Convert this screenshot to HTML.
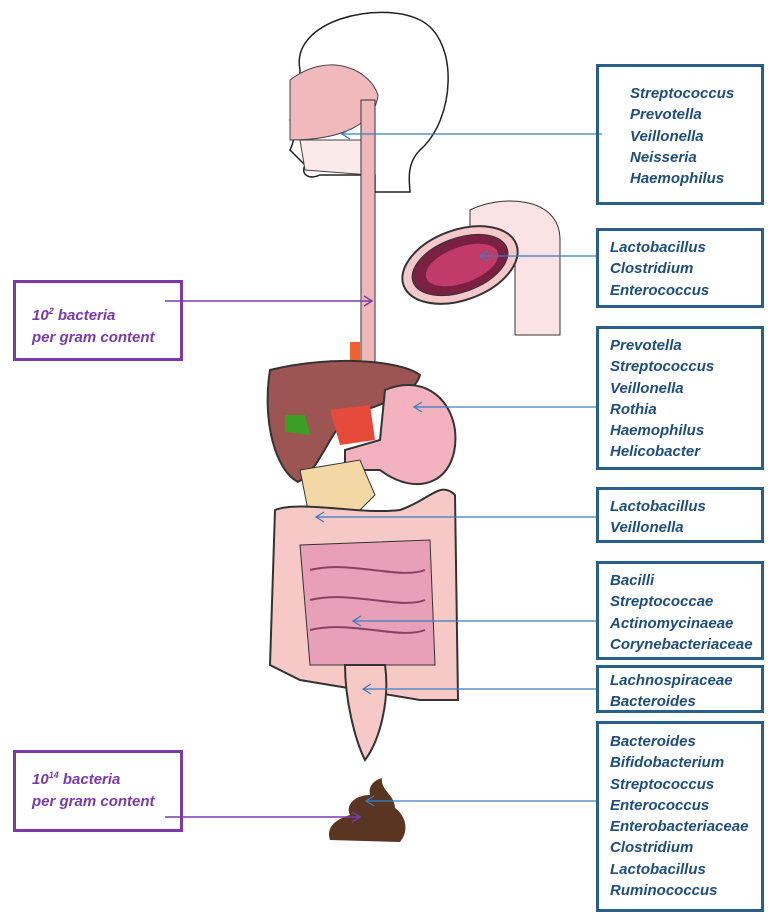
<!DOCTYPE html>
<html><head><meta charset="utf-8"><style>
body{margin:0;width:773px;height:922px;background:#fff;position:relative;overflow:hidden;font-family:"Liberation Sans",sans-serif}
.b{position:absolute;border:3px solid #2a5f8a;box-sizing:border-box;color:#1f4e79;font-weight:bold;font-style:italic;font-size:15px;line-height:21.3px;padding-left:11px}
.p{position:absolute;border:3px solid #7a3aa8;box-sizing:border-box;color:#7a3aa8;font-weight:bold;font-style:italic;font-size:15px;line-height:22px;padding-left:16px}
sup{font-size:9px}
</style></head><body>
<svg width="773" height="922" style="position:absolute;left:0;top:0">
<path d="M300 70 C290 20 380 0 420 20 C460 40 455 120 420 150 C405 165 410 185 410 192 L375 192 L375 175 L320 175 C310 180 300 175 305 165 L290 150 C295 140 295 130 290 120 C300 110 300 90 300 70Z" fill="#fff" stroke="#222" stroke-width="1.5"/>
<path d="M290 80 C330 50 370 70 378 95 C375 125 340 140 290 140Z" fill="#f2b9bd" stroke="#444"/>
<path d="M300 140 L375 140 L370 175 L305 170Z" fill="#fbeaea" stroke="#444"/>
<rect x="361" y="100" width="14" height="270" fill="#f0b7bb" stroke="#333"/>
<rect x="350" y="342" width="10" height="25" fill="#f06030"/>
<path d="M470 210 C500 195 560 195 560 240 L560 335 L515 335 L515 250 C510 230 490 225 470 230Z" fill="#fbe3e5" stroke="#333"/>
<ellipse cx="460" cy="265" rx="60" ry="35" transform="rotate(-20 460 265)" fill="#f6c8cc" stroke="#333" stroke-width="2"/>
<ellipse cx="460" cy="265" rx="50" ry="27" transform="rotate(-20 460 265)" fill="#7a2040" stroke="#333"/>
<ellipse cx="462" cy="265" rx="38" ry="18" transform="rotate(-20 462 265)" fill="#c23a68"/>
<path d="M270 370 C330 355 400 360 420 375 C415 395 380 405 350 415 C330 430 320 470 298 482 C275 470 262 420 270 370Z" fill="#9c5552" stroke="#333" stroke-width="2"/>
<path d="M285 415 L305 415 L310 435 L285 432Z" fill="#3aa024"/>
<path d="M330 410 L370 405 L375 440 L340 445Z" fill="#e64a3a"/>
<path d="M385 390 C420 375 450 395 455 430 C460 480 420 500 380 470 L345 470 L345 450 L380 440Z" fill="#f2b3bf" stroke="#333" stroke-width="2"/>
<path d="M300 470 L360 460 L375 495 L345 525 L310 520Z" fill="#f3d8a6" stroke="#333"/>
<path d="M275 510 C300 500 360 515 400 510 C430 500 440 480 455 495 L458 700 L420 700 L300 680 L270 665 Z" fill="#f7c9c6" stroke="#333" stroke-width="2"/>
<path d="M300 545 L430 540 L435 665 L310 665Z" fill="#e7a0b8" stroke="#333"/>
<path d="M310 570 C350 560 400 580 425 570 M310 600 C350 590 400 610 425 600 M310 630 C350 620 400 640 425 630" fill="none" stroke="#8a4060" stroke-width="2"/>
<path d="M345 665 L385 665 C390 700 380 740 365 760 C355 740 345 700 345 665Z" fill="#f7c9c6" stroke="#333" stroke-width="2"/>
<path d="M330 840 C325 825 340 818 350 815 C345 805 355 795 370 795 C368 785 375 780 382 778 C380 790 395 795 395 808 C405 815 410 830 400 842Z" fill="#5a3622"/>
<g stroke="#3a7cc0" stroke-width="1.3" fill="none">
<line x1="602" y1="134" x2="342" y2="134"/><path d="M350 129 L342 134 L350 139"/>
<line x1="596" y1="256" x2="480" y2="256"/><path d="M488 251 L480 256 L488 261"/>
<line x1="596" y1="407" x2="414" y2="407"/><path d="M422 402 L414 407 L422 412"/>
<line x1="596" y1="517" x2="316" y2="517"/><path d="M324 512 L316 517 L324 522"/>
<line x1="596" y1="621" x2="353" y2="621"/><path d="M361 616 L353 621 L361 626"/>
<line x1="596" y1="689" x2="363" y2="689"/><path d="M371 684 L363 689 L371 694"/>
<line x1="596" y1="801" x2="366" y2="801"/><path d="M374 796 L366 801 L374 806"/>
</g>
<g stroke="#7a3aa8" stroke-width="1.5" fill="none">
<line x1="165" y1="301" x2="372" y2="301"/><path d="M364 296 L372 301 L364 306"/>
<line x1="165" y1="817" x2="360" y2="817"/><path d="M352 812 L360 817 L352 822"/>
</g>
</svg>
<div class="b" style="left:596px;top:64px;width:168px;height:141px;padding:16px 0 0 31px">Streptococcus<br>Prevotella<br>Veillonella<br>Neisseria<br>Haemophilus</div>
<div class="b" style="left:596px;top:228px;width:168px;height:80px;padding-top:6px">Lactobacillus<br>Clostridium<br>Enterococcus</div>
<div class="b" style="left:596px;top:326px;width:168px;height:144px;padding-top:6px">Prevotella<br>Streptococcus<br>Veillonella<br>Rothia<br>Haemophilus<br>Helicobacter</div>
<div class="b" style="left:596px;top:487px;width:168px;height:56px;padding-top:6px">Lactobacillus<br>Veillonella</div>
<div class="b" style="left:596px;top:561px;width:168px;height:99px;padding-top:6px">Bacilli<br>Streptococcae<br>Actinomycinaeae<br>Corynebacteriaceae</div>
<div class="b" style="left:596px;top:665px;width:168px;height:48px;padding-top:2px">Lachnospiraceae<br>Bacteroides</div>
<div class="b" style="left:596px;top:721px;width:168px;height:191px;padding-top:7px">Bacteroides<br>Bifidobacterium<br>Streptococcus<br>Enterococcus<br>Enterobacteriaceae<br>Clostridium<br>Lactobacillus<br>Ruminococcus</div>
<div class="p" style="left:13px;top:280px;width:170px;height:81px;padding-top:17px">10<sup>2</sup> bacteria<br>per gram content</div>
<div class="p" style="left:13px;top:750px;width:170px;height:82px;padding-top:11px">10<sup>14</sup> bacteria<br>per gram content</div>
</body></html>
